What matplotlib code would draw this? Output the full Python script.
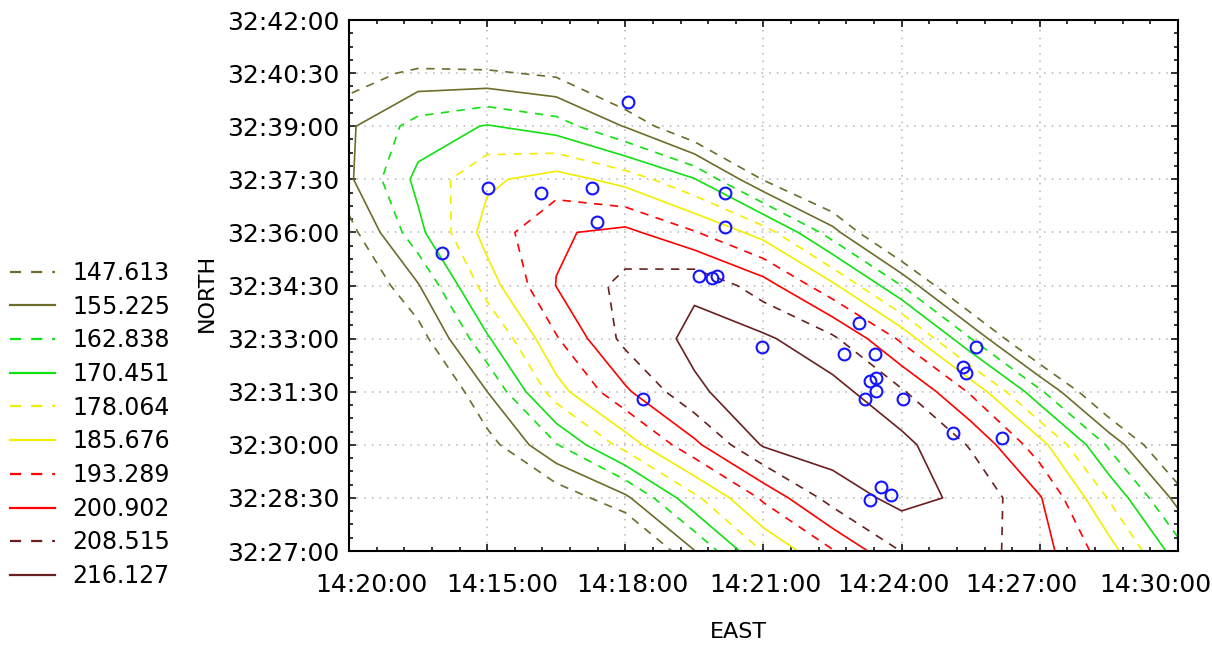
import numpy as np
import matplotlib
matplotlib.use("Agg")
import matplotlib.pyplot as plt
from matplotlib.lines import Line2D
from matplotlib.ticker import MultipleLocator
from matplotlib.transforms import ScaledTranslation

# coordinates are minutes: east = 14deg xx', north = 32deg xx'
east_ticks = [12, 15, 18, 21, 24, 27, 30]
east_labels = ["14:20:00", "14:15:00", "14:18:00", "14:21:00", "14:24:00", "14:27:00", "14:30:00"]
north_ticks = [27, 28.5, 30, 31.5, 33, 34.5, 36, 37.5, 39, 40.5, 42]
north_labels = ["32:27:00", "32:28:30", "32:30:00", "32:31:30", "32:33:00", "32:34:30",
                "32:36:00", "32:37:30", "32:39:00", "32:40:30", "32:42:00"]

levels = [147.613, 155.225, 162.838, 170.451, 178.064, 185.676, 193.289, 200.902, 208.515, 216.127]
level_colors = ["#6e6c2a", "#6e6c2a", "#11e011", "#11e011", "#f2ee00", "#f2ee00",
                "#ff0000", "#ff0000", "#6a1f1f", "#6a1f1f"]

# gridded surface, values
grid_east = [12, 13.5, 15, 16.5, 18, 19.5, 21, 22.5, 24, 25.5, 27, 28.5, 30]
grid_north = [27, 28.5, 30, 31.5, 33, 34.5, 36, 37.5, 39, 40.5, 42]
z_rows = [
    [95, 100, 108, 118, 132.6, 154.9, 178.7, 192.7, 208.8, 212, 204.2, 189.1, 166.5],
    [100, 108, 118, 142, 153.4, 176.3, 194.7, 211.9, 218.5, 214.5, 201.6, 177.4, 152.4],
    [112, 125, 144.3, 162.3, 181.3, 199, 217, 220, 218.5, 207.8, 188.9, 161.5, 134],
    [118, 132, 155.2, 182.4, 199.5, 214.9, 220.5, 219, 209.6, 192.3, 164.5, 134.4, 118],
    [125, 143.7, 169.3, 192.6, 210.9, 218, 217.5, 210.1, 191.8, 163, 131.9, 110, 100],
    [137, 154.6, 181.9, 201.1, 211, 215, 204.5, 187.5, 162.7, 131.5, 110, 100, 95],
    [144.5, 168.3, 188.8, 200, 203, 193.9, 182.4, 158.5, 129.6, 112, 100, 95, 92],
    [154, 172.6, 184.2, 189.1, 182.7, 171, 147, 130, 115, 105, 98, 94, 92],
    [154, 166, 171, 166.6, 154.7, 138, 125, 115, 105, 100, 95, 92, 90],
    [143.4, 149.5, 148.9, 146, 132, 120, 110, 103, 98, 95, 92, 90, 90],
    [125, 128, 128, 125, 115, 108, 100, 95, 92, 90, 90, 88, 88],
]

# sample sites
pt_east = [18.06, 15.02, 16.17, 17.28, 17.38, 14.02, 20.16, 20.16, 19.60, 19.88, 19.99,
           20.97, 23.07, 22.75, 23.42, 23.44, 23.31, 23.44, 23.20, 24.03, 18.38,
           25.33, 25.40, 25.61, 25.11, 26.18, 23.55, 23.77, 23.31]
pt_north = [39.68, 37.25, 37.11, 37.25, 36.29, 35.42, 37.11, 36.15, 34.77, 34.71, 34.77,
            32.76, 33.44, 32.56, 32.56, 31.89, 31.80, 31.52, 31.29, 31.29, 31.29,
            32.20, 32.03, 32.76, 30.33, 30.19, 28.81, 28.58, 28.44]

dash = (0, (5, 4.5))
styles = [dash, "solid"] * 5

fig = plt.figure(figsize=(12.12, 6.47), dpi=100)
ax = fig.add_axes([349 / 1212, 1 - 551 / 647, 829 / 1212, 531 / 647])

X, Y = np.meshgrid(grid_east, grid_north)
Z = np.array(z_rows)
cs = ax.contour(X, Y, Z, levels=levels, colors=level_colors, linewidths=1.2)
cs.set_linestyle(styles)

ax.plot(pt_east, pt_north, "o", mfc="none", mec="#1414ff", ms=8.5, mew=1.5, zorder=5)

ax.set_xlim(12, 30)
ax.set_ylim(27, 42)
ax.set_xticks(east_ticks)
ax.set_xticklabels(east_labels)
ax.set_yticks(north_ticks)
ax.set_yticklabels(north_labels)
ax.xaxis.set_minor_locator(MultipleLocator(0.6))
ax.yaxis.set_minor_locator(MultipleLocator(0.375))
ax.tick_params(which="both", direction="in", top=True, right=True, width=1.1, color="black")
ax.tick_params(which="major", length=5)
ax.tick_params(which="minor", length=3)
ax.tick_params(axis="y", labelsize=18, pad=7)
ax.tick_params(axis="x", labelsize=18, pad=16)
for sp in ax.spines.values():
    sp.set_linewidth(1.5)
ax.grid(True, which="major", color="#b4b4b4", linestyle=(0, (1, 4)), linewidth=1.1)
ax.set_axisbelow(True)

# the original spreads the date labels a little inward
shifts = [22, 15, 7, 2, -8, -18, -23]
for lbl, dx in zip(ax.get_xticklabels(), shifts):
    lbl.set_transform(lbl.get_transform() + ScaledTranslation(dx / 100, 0, fig.dpi_scale_trans))

fig.text(738 / 1212, 1 - 632 / 647, "EAST", ha="center", va="center", fontsize=16)
fig.text(207 / 1212, 1 - 293 / 647, "NORTH", ha="center", va="center", fontsize=16, rotation=90)

handles = [Line2D([], [], color=c, lw=1.6, linestyle=s) for c, s in zip(level_colors, styles)]
fig.legend(handles, ["%.3f" % v for v in levels], loc="upper left",
           bbox_to_anchor=(10 / 1212, 1 - 261 / 647), frameon=False, fontsize=17,
           handlelength=1.9, handletextpad=0.75, labelspacing=0.41,
           borderpad=0, borderaxespad=0)

fig.savefig("out.png", dpi=100)
